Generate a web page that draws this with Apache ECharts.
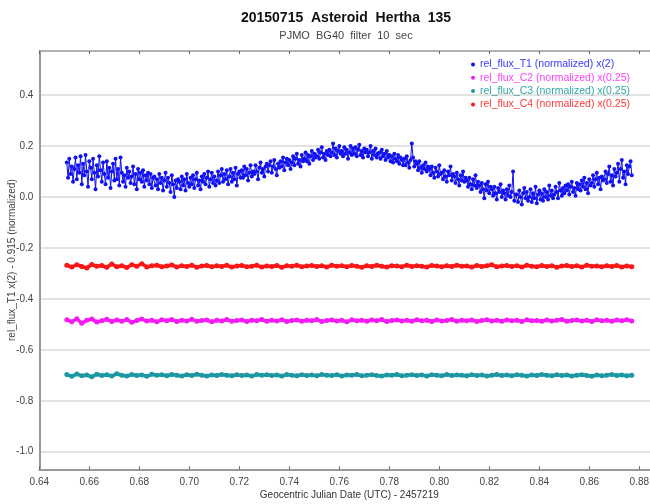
<!DOCTYPE html>
<html><head><meta charset="utf-8">
<script src="https://cdn.jsdelivr.net/npm/echarts@6/dist/echarts.min.js"></script>
<style>html,body{margin:0;padding:0;background:#fff}#c{width:650px;height:504px}</style>
</head><body><div id="c"></div>
<script>
const titleText = '20150715  Asteroid  Hertha  135';
const subText = 'PJMO  BG40  filter  10  sec';
const xName = 'Geocentric Julian Date (UTC) - 2457219';
const yName = 'rel_flux_T1 x(2) - 0.915 (normalized)';
const seriesNames = ['rel_flux_T1 (normalized) x(2)', 'rel_flux_C2 (normalized) x(0.25)', 'rel_flux_C3 (normalized) x(0.25)', 'rel_flux_C4 (normalized) x(0.25)'];
const xTicks = [0.64, 0.66, 0.68, 0.70, 0.72, 0.74, 0.76, 0.78, 0.80, 0.82, 0.84, 0.86, 0.88];
const yTicks = [-1.0, -0.8, -0.6, -0.4, -0.2, 0.0, 0.2, 0.4];
const jdStart = 0.651;
const jdEnd = 0.877;

const t1 = [
0.135,0.075,0.150,0.090,0.120,0.060,0.110,0.155,0.070,0.125,
0.095,0.160,0.050,0.130,0.085,0.165,0.100,0.040,0.140,0.115,
0.070,0.150,0.095,0.030,0.125,0.080,0.160,0.105,0.060,0.135,
0.090,0.050,0.140,0.075,0.115,0.035,0.100,0.130,0.065,0.150,
0.070,0.110,0.045,0.155,0.095,0.060,0.085,0.040,0.115,0.075,
0.100,0.055,0.080,0.120,0.050,0.090,0.030,0.110,0.070,0.095,
0.060,0.105,0.040,0.085,0.065,0.095,0.050,0.090,0.035,0.075,
0.080,0.045,0.070,0.030,0.090,0.055,0.075,0.025,0.065,0.095,
0.040,0.075,0.055,0.020,0.085,0.050,0.000,0.065,0.035,0.070,
0.060,0.030,0.080,0.045,0.070,0.025,0.090,0.055,0.040,0.075,
0.050,0.085,0.035,0.070,0.095,0.045,0.065,0.030,0.080,0.060,
0.090,0.050,0.075,0.100,0.040,0.070,0.095,0.055,0.080,0.045,
0.065,0.100,0.055,0.085,0.110,0.060,0.090,0.070,0.105,0.050,
0.080,0.110,0.060,0.095,0.070,0.115,0.045,0.090,0.100,0.075,
0.105,0.075,0.120,0.085,0.110,0.065,0.095,0.125,0.080,0.100,
0.090,0.125,0.100,0.070,0.115,0.135,0.095,0.110,0.080,0.120,
0.130,0.100,0.125,0.140,0.095,0.120,0.145,0.110,0.085,0.130,
0.115,0.140,0.120,0.155,0.105,0.135,0.150,0.125,0.145,0.110,
0.135,0.160,0.125,0.150,0.170,0.130,0.145,0.120,0.165,0.140,
0.150,0.175,0.140,0.165,0.130,0.160,0.180,0.145,0.170,0.155,
0.160,0.185,0.150,0.175,0.195,0.155,0.170,0.145,0.180,0.165,
0.185,0.160,0.175,0.210,0.165,0.190,0.155,0.180,0.200,0.170,
0.180,0.160,0.195,0.170,0.185,0.150,0.175,0.200,0.165,0.190,
0.170,0.195,0.160,0.185,0.205,0.165,0.180,0.155,0.190,0.175,
0.185,0.160,0.175,0.200,0.150,0.180,0.165,0.190,0.155,0.170,
0.175,0.150,0.185,0.160,0.170,0.145,0.180,0.155,0.165,0.140,
0.160,0.135,0.170,0.150,0.140,0.165,0.130,0.155,0.145,0.125,
0.150,0.125,0.160,0.135,0.115,0.145,0.210,0.155,0.120,0.140,
0.130,0.105,0.140,0.115,0.095,0.125,0.110,0.135,0.100,0.120,
0.110,0.085,0.120,0.095,0.075,0.115,0.100,0.080,0.125,0.090,
0.095,0.070,0.105,0.080,0.060,0.100,0.085,0.120,0.065,0.090,
0.080,0.055,0.095,0.070,0.045,0.085,0.065,0.100,0.060,0.075,
0.065,0.040,0.075,0.050,0.030,0.070,0.045,0.085,0.035,0.060,
0.045,0.020,0.055,0.030,-0.005,0.050,0.025,0.060,0.015,0.040,
0.030,0.005,0.040,0.015,-0.010,0.035,0.020,0.050,0.000,0.025,
0.015,-0.010,0.030,0.005,0.045,0.000,0.020,0.100,-0.015,0.010,
0.010,-0.020,0.025,0.000,-0.030,0.015,0.035,-0.005,0.020,-0.015,
0.000,0.030,-0.020,0.015,-0.005,0.040,-0.025,0.010,0.025,-0.010,
0.015,-0.015,0.030,0.000,0.020,-0.010,0.045,0.005,0.025,-0.005,
0.010,0.040,0.020,-0.005,0.055,0.025,0.005,0.035,0.015,0.045,
0.025,0.050,0.010,0.040,0.060,0.020,0.035,0.005,0.055,0.030,
0.050,0.025,0.065,0.040,0.075,0.030,0.055,0.015,0.070,0.045,
0.055,0.085,0.040,0.070,0.095,0.050,0.075,0.030,0.080,0.065,
0.070,0.100,0.055,0.090,0.120,0.060,0.085,0.045,0.110,0.080,
0.095,0.130,0.060,0.110,0.145,0.075,0.100,0.050,0.125,0.090,
0.120,0.140,0.085
];

const c4 = [
-0.268,-0.275,-0.266,-0.273,-0.279,-0.265,-0.272,-0.269,-0.276,-0.263,
-0.274,-0.270,-0.277,-0.266,-0.272,-0.262,-0.275,-0.270,-0.268,-0.274,
-0.271,-0.267,-0.275,-0.270,-0.273,-0.268,-0.276,-0.271,-0.269,-0.274,
-0.270,-0.273,-0.268,-0.275,-0.271,-0.269,-0.274,-0.272,-0.268,-0.275,
-0.271,-0.273,-0.269,-0.276,-0.270,-0.272,-0.268,-0.274,-0.271,-0.269,
-0.273,-0.270,-0.275,-0.268,-0.272,-0.270,-0.274,-0.269,-0.272,-0.276,
-0.270,-0.273,-0.268,-0.272,-0.275,-0.270,-0.271,-0.274,-0.268,-0.273,
-0.270,-0.272,-0.275,-0.269,-0.271,-0.274,-0.270,-0.273,-0.268,-0.272,
-0.271,-0.275,-0.269,-0.273,-0.270,-0.266,-0.274,-0.271,-0.269,-0.273,
-0.270,-0.275,-0.268,-0.272,-0.274,-0.269,-0.273,-0.270,-0.276,-0.271,
-0.269,-0.273,-0.270,-0.275,-0.268,-0.272,-0.271,-0.274,-0.270,-0.273,
-0.269,-0.275,-0.271,-0.274
];

const c2 = [
-0.482,-0.490,-0.478,-0.496,-0.484,-0.479,-0.491,-0.486,-0.480,-0.489,
-0.483,-0.488,-0.481,-0.492,-0.485,-0.479,-0.487,-0.484,-0.490,-0.482,
-0.486,-0.481,-0.489,-0.484,-0.487,-0.480,-0.488,-0.485,-0.483,-0.490,
-0.484,-0.487,-0.481,-0.488,-0.485,-0.483,-0.489,-0.484,-0.486,-0.481,
-0.488,-0.484,-0.487,-0.482,-0.489,-0.485,-0.483,-0.488,-0.484,-0.486,
-0.481,-0.489,-0.485,-0.483,-0.487,-0.484,-0.490,-0.482,-0.486,-0.484,
-0.488,-0.483,-0.486,-0.481,-0.489,-0.485,-0.483,-0.487,-0.484,-0.488,
-0.482,-0.486,-0.484,-0.489,-0.483,-0.487,-0.485,-0.481,-0.488,-0.484,
-0.486,-0.483,-0.489,-0.485,-0.482,-0.487,-0.484,-0.488,-0.483,-0.486,
-0.484,-0.489,-0.482,-0.486,-0.485,-0.488,-0.483,-0.487,-0.484,-0.481,
-0.488,-0.485,-0.483,-0.487,-0.484,-0.489,-0.482,-0.486,-0.484,-0.488,
-0.483,-0.486,-0.482,-0.487
];

const c3 = [
-0.697,-0.704,-0.695,-0.702,-0.699,-0.706,-0.696,-0.701,-0.698,-0.703,
-0.694,-0.700,-0.703,-0.697,-0.701,-0.699,-0.704,-0.696,-0.700,-0.698,
-0.702,-0.697,-0.700,-0.703,-0.698,-0.701,-0.696,-0.700,-0.703,-0.699,
-0.701,-0.697,-0.700,-0.702,-0.698,-0.701,-0.699,-0.703,-0.697,-0.700,
-0.698,-0.701,-0.699,-0.703,-0.697,-0.700,-0.702,-0.698,-0.701,-0.699,
-0.702,-0.697,-0.700,-0.701,-0.698,-0.703,-0.699,-0.700,-0.697,-0.702,
-0.700,-0.698,-0.701,-0.703,-0.699,-0.700,-0.697,-0.702,-0.700,-0.698,
-0.701,-0.699,-0.703,-0.698,-0.700,-0.702,-0.697,-0.701,-0.699,-0.700,
-0.702,-0.698,-0.701,-0.699,-0.703,-0.700,-0.697,-0.701,-0.699,-0.702,
-0.698,-0.700,-0.703,-0.699,-0.701,-0.697,-0.700,-0.702,-0.698,-0.701,
-0.699,-0.703,-0.700,-0.698,-0.701,-0.704,-0.699,-0.702,-0.700,-0.697,
-0.701,-0.699,-0.702,-0.700
];

const colors = ['#1010f0', '#f41cf4', '#1c98a2', '#f81818'];
const legendColors = ['#3a3aff', '#ff40ff', '#35a5a5', '#ff3a3a'];

function pair(vals) {
  const n = vals.length;
  const step = (jdEnd - jdStart) / (n - 1);
  return vals.map((v, i) => [jdStart + i * step, v]);
}

const chart = echarts.init(document.getElementById('c'), null, {renderer: 'canvas'});
const fontFam = '"Liberation Sans", Arial, sans-serif';
const valueSets = [t1, c2, c3, c4];

const option = {
  animation: false,
  backgroundColor: '#fff',
  title: [
    {text: titleText, left: 346, top: 11, textAlign: 'center', padding: 0,
     textStyle: {fontFamily: fontFam, fontSize: 14, fontWeight: 'bold', color: '#111'}},
    {text: subText, left: 346, top: 30, textAlign: 'center', padding: 0,
     textStyle: {fontFamily: fontFam, fontSize: 11, fontWeight: 'normal', color: '#444'}}
  ],
  legend: {
    orient: 'vertical', left: 471, top: 58, padding: 0, itemGap: 0.3,
    itemWidth: 4, itemHeight: 4, icon: 'circle',
    textStyle: {fontFamily: fontFam, fontSize: 10.5, lineHeight: 13},
    data: seriesNames.map((n, i) => ({name: n, textStyle: {color: legendColors[i]}}))
  },
  grid: {left: 39.3, right: -9.3, top: 51, bottom: 34.7, containLabel: false, outerBoundsMode: 'none'},
  xAxis: [
    {type: 'value', min: 0.64, max: 0.888, position: 'bottom',
     axisLine: {onZero: false, lineStyle: {color: '#999', width: 2}},
     axisTick: {inside: true, length: 3, customValues: xTicks, lineStyle: {color: '#666'}},
     axisLabel: {customValues: xTicks, formatter: v => v.toFixed(2), fontFamily: fontFam, fontSize: 10, color: '#444', margin: 8},
     splitLine: {show: false},
     name: xName, nameLocation: 'middle', nameGap: 21, nameMoveOverlap: false,
     nameTextStyle: {fontFamily: fontFam, fontSize: 10, color: '#333'}},
    {type: 'value', min: 0.64, max: 0.888, position: 'top',
     axisLine: {onZero: false, lineStyle: {color: '#999', width: 1.5}},
     axisTick: {inside: true, length: 3, customValues: xTicks, lineStyle: {color: '#666'}},
     axisLabel: {show: false, customValues: xTicks},
     splitLine: {show: false}}
  ],
  yAxis: {
    type: 'value', min: -1.069, max: 0.573,
    axisLine: {show: true, onZero: false, lineStyle: {color: '#999', width: 2}},
    axisTick: {show: false, customValues: yTicks},
    axisLabel: {customValues: yTicks, formatter: v => v.toFixed(1), fontFamily: fontFam, fontSize: 10, color: '#444', margin: 6},
    splitLine: {show: true, lineStyle: {color: '#e2e2e2', width: 2}},
    name: yName, nameLocation: 'middle', nameGap: 22, nameMoveOverlap: false,
    nameTextStyle: {fontFamily: fontFam, fontSize: 10, color: '#444'}
  },
  series: valueSets.map((vals, i) => ({
    name: seriesNames[i], type: 'line', xAxisIndex: 0,
    data: pair(vals),
    symbol: 'circle', symbolSize: i === 0 ? 4 : 5, showSymbol: true, showAllSymbol: true,
    itemStyle: {color: colors[i]},
    lineStyle: {color: colors[i], width: i === 0 ? 1 : 3.5},
    emphasis: {disabled: true}
  }))
};
chart.setOption(option);
</script>
</body></html>
